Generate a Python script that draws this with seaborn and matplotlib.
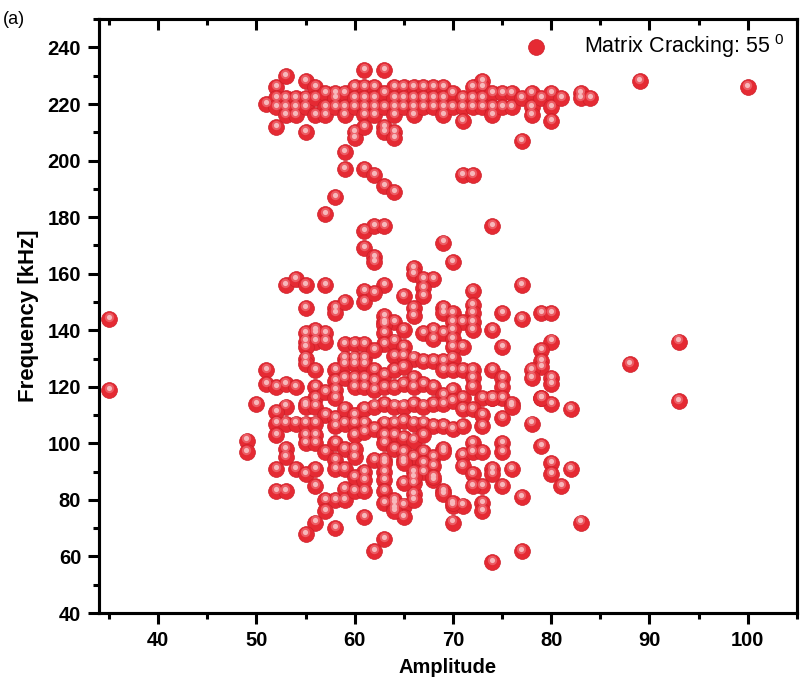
import numpy as np
import pandas as pd
import matplotlib
matplotlib.use("Agg")
import matplotlib.pyplot as plt
from matplotlib.ticker import MultipleLocator, NullFormatter
from matplotlib.transforms import ScaledTranslation
import seaborn as sns

# --- data: (amplitude [dB], frequency [kHz]) ---
BAND_PTS = [
    (51, 220), (52, 226), (52, 222), (52, 219), (52, 212), (53, 230), (53, 222), (53, 219), (53, 216),
    (54, 222), (54, 219), (54, 216), (55, 228), (55, 222), (55, 219), (55, 210), (56, 226), (56, 222),
    (56, 216), (57, 224), (57, 219), (57, 216), (58, 224), (58, 222), (58, 219), (59, 224), (59, 219),
    (59, 216), (60, 226), (60, 222), (60, 219), (60, 210), (60, 208), (61, 232), (61, 226), (61, 222),
    (61, 219), (61, 216), (61, 212), (62, 226), (62, 222), (62, 219), (62, 216), (63, 232), (63, 224),
    (63, 219), (63, 212), (63, 210), (64, 226), (64, 222), (64, 219), (64, 216), (64, 210), (64, 208),
    (65, 226), (65, 222), (65, 219), (66, 226), (66, 222), (66, 219), (66, 216), (67, 226), (67, 222),
    (67, 219), (68, 226), (68, 222), (68, 219), (69, 226), (69, 222), (69, 219), (69, 216), (70, 224),
    (70, 219), (71, 222), (71, 219), (71, 214), (72, 226), (72, 222), (72, 219), (73, 228), (73, 226),
    (73, 222), (73, 219), (74, 224), (74, 219), (74, 216), (75, 224), (75, 219), (76, 224), (76, 219),
    (77, 222), (77, 207), (78, 224), (78, 219), (78, 216), (79, 222), (80, 224), (80, 219), (80, 214),
    (81, 222), (83, 224), (83, 222), (84, 222), (89, 228), (100, 226),
]

FALL_PTS = [
    (59, 203), (59, 197), (61, 197), (62, 195), (63, 191), (64, 189), (58, 187), (57, 181),
    (71, 195), (72, 195),
]

UPPER_PTS = [
    (61, 175), (62, 177), (63, 177), (74, 177), (61, 169), (62, 166), (62, 164), (69, 171), (70, 164),
    (66, 162), (66, 160), (67, 158), (68, 158), (53, 156), (54, 158), (55, 156), (57, 156), (63, 156),
    (77, 156), (61, 154), (61, 150), (62, 153), (65, 152), (67, 155), (67, 152), (72, 154), (55, 148),
    (58, 148), (58, 146), (59, 150), (66, 148), (66, 145), (69, 148), (69, 146), (70, 146), (72, 149),
    (72, 146), (75, 146), (77, 144), (79, 146), (80, 146), (63, 145), (63, 143), (64, 143), (65, 140),
    (56, 140), (55, 139), (56, 139), (57, 139), (55, 136), (56, 136), (57, 136), (55, 134), (55, 130),
    (55, 128), (56, 126), (70, 143), (71, 143), (72, 143), (72, 140), (70, 140), (68, 140), (67, 139),
    (68, 137), (69, 139), (70, 137), (71, 134), (70, 134), (74, 140), (75, 134), (80, 136), (79, 133),
    (79, 129), (79, 127), (78, 126), (78, 123), (80, 123), (80, 121), (63, 142), (63, 139), (63, 135),
    (64, 136), (65, 134), (64, 131), (65, 131), (59, 135), (60, 135), (61, 135), (59, 130), (60, 130),
    (61, 130), (62, 133), (66, 130), (67, 129), (68, 129), (69, 129), (70, 130), (69, 126), (70, 126),
    (71, 126), (72, 126), (72, 123), (74, 126), (75, 123), (75, 120), (51, 126), (51, 121), (52, 120),
    (53, 121), (54, 120), (56, 120), (56, 116), (57, 118), (58, 126), (58, 122), (58, 119), (58, 116),
    (59, 128), (60, 128), (61, 128), (59, 123), (60, 123), (61, 123), (62, 126), (62, 122), (63, 124),
    (64, 126), (65, 127), (66, 123), (60, 120), (61, 120), (62, 119), (63, 120), (64, 120), (65, 121),
    (66, 120), (67, 121), (68, 120), (69, 117), (70, 119), (71, 116), (72, 120), (73, 116), (74, 116),
    (75, 116), (76, 114), (79, 116), (80, 114), (82, 112), (50, 114), (53, 113), (55, 114),
]

LOWER_PTS = [
    (52, 111), (52, 107), (53, 107), (54, 107), (52, 103), (55, 103), (56, 103), (55, 100), (56, 100),
    (49, 101), (49, 97), (53, 98), (53, 95), (52, 91), (54, 91), (55, 89), (56, 91), (52, 83), (53, 83),
    (56, 85), (57, 97), (58, 100), (59, 98), (58, 94), (58, 91), (59, 91), (60, 95), (60, 98), (57, 80),
    (58, 80), (59, 80), (57, 76), (56, 72), (55, 68), (58, 70), (59, 84), (60, 83), (61, 83), (61, 90),
    (60, 88), (61, 87), (62, 94), (63, 94), (63, 90), (63, 87), (63, 83), (61, 74), (63, 66), (62, 62),
    (63, 79), (64, 80), (64, 77), (65, 78), (65, 74), (66, 82), (66, 86), (65, 86), (67, 90), (68, 87),
    (69, 83), (70, 78), (71, 78), (70, 72), (73, 79), (73, 76), (77, 81), (77, 62), (74, 58), (71, 96),
    (72, 100), (71, 92), (72, 89), (73, 85), (74, 91), (75, 100), (75, 97), (75, 85), (76, 91), (72, 85),
    (79, 99), (80, 93), (80, 89), (81, 85), (82, 91), (83, 72), (78, 107), (75, 109), (73, 106),
    (55, 113), (56, 113), (57, 110), (58, 109), (59, 112), (60, 110), (61, 112), (62, 113), (63, 114),
    (64, 113), (65, 113), (66, 114), (67, 113), (68, 114), (69, 114), (70, 115), (71, 112), (72, 112),
    (73, 110), (74, 116), (76, 113), (79, 116), (55, 107), (56, 107), (58, 106), (59, 107), (60, 107),
    (61, 107), (63, 107), (64, 107), (65, 108), (66, 107), (67, 107), (68, 106), (69, 106), (70, 105),
    (71, 106), (60, 103), (61, 104), (62, 105), (63, 103), (64, 103), (65, 102), (66, 101), (67, 103),
    (63, 100), (64, 98), (65, 97), (66, 95), (67, 97), (68, 95), (69, 98), (65, 94), (67, 93), (68, 92),
    (66, 90), (68, 88), (66, 88), (66, 80), (65, 93), (64, 79), (64, 76), (63, 93), (69, 97), (69, 82),
    (72, 97), (73, 97), (74, 89), (70, 79),
]

OUTLIER_PTS = [(35, 144), (35, 119), (88, 128), (93, 136), (93, 115)]

LEGEND_LABEL = "Matrix Cracking: 55$^{\\ 0}$"

# ----------------------------------------------------------------------

sns.set_style("ticks")
plt.rcParams["font.family"] = ["Liberation Sans", "DejaVu Sans"]
plt.rcParams["mathtext.fontset"] = "custom"
plt.rcParams["mathtext.rm"] = "Liberation Sans"
plt.rcParams["mathtext.default"] = "regular"
plt.rcParams["text.color"] = "black"
plt.rcParams["axes.labelcolor"] = "black"
plt.rcParams["xtick.color"] = "black"
plt.rcParams["ytick.color"] = "black"

all_pts = BAND_PTS + FALL_PTS + UPPER_PTS + LOWER_PTS + OUTLIER_PTS
df = pd.DataFrame(all_pts, columns=["Amplitude", "Frequency"])

fig = plt.figure(figsize=(8, 6.97), dpi=100)
ax = fig.add_axes([0.124, 0.1205, 0.872, 0.852])

# base ball
sns.scatterplot(data=df, x="Amplitude", y="Frequency", ax=ax, s=130,
                color="#e52a33", edgecolor="#cc1f29", linewidth=0.5,
                label=LEGEND_LABEL, zorder=3)
# soft highlight layers for the glossy "ball" look
shift = ScaledTranslation(-0.3 / 72, 1.5 / 72, fig.dpi_scale_trans)
sns.scatterplot(data=df, x="Amplitude", y="Frequency", ax=ax, s=45,
                color="#ee6870", linewidth=0, legend=False, zorder=4, alpha=0.8)
ax.collections[-1].set_offset_transform(ax.transData + shift)
sns.scatterplot(data=df, x="Amplitude", y="Frequency", ax=ax, s=14,
                color="#f7b8bb", linewidth=0, legend=False, zorder=5)
ax.collections[-1].set_offset_transform(ax.transData + shift)

ax.set_xlim(34, 105)
ax.set_ylim(40, 250)
ax.xaxis.set_major_locator(MultipleLocator(10))
ax.xaxis.set_minor_locator(MultipleLocator(5))
ax.set_yticks(np.arange(40, 241, 20))
ax.yaxis.set_minor_locator(MultipleLocator(10))

for side in ["left", "right", "top", "bottom"]:
    ax.spines[side].set_visible(True)
    ax.spines[side].set_linewidth(2.2)
    ax.spines[side].set_color("black")

ax.tick_params(axis="both", which="major", direction="out", length=8, width=2.2,
               labelsize=14.5, pad=5, colors="black")
ax.tick_params(axis="both", which="minor", direction="out", length=4.5, width=2.2)
for lbl in ax.get_xticklabels() + ax.get_yticklabels():
    lbl.set_fontweight("bold")

# mirrored ticks on the top spine, pointing inward
top = ax.twiny()
top.set_xlim(ax.get_xlim())
top.xaxis.set_major_locator(MultipleLocator(10))
top.xaxis.set_minor_locator(MultipleLocator(5))
top.xaxis.set_major_formatter(NullFormatter())
top.tick_params(axis="x", which="both", top=True, bottom=False, labeltop=False,
                direction="in", width=2.2, color="black")
top.tick_params(axis="x", which="major", length=8)
top.tick_params(axis="x", which="minor", length=4.5)
top.tick_params(axis="y", left=False, right=False, labelleft=False, labelright=False)
for side in ["left", "right", "top", "bottom"]:
    top.spines[side].set_linewidth(2.2)
    top.spines[side].set_color("black")

ax.set_xlabel("Amplitude", fontsize=14.5, fontweight="bold", labelpad=6, color="black")
ax.set_ylabel("Frequency [kHz]", fontsize=16, fontweight="bold", labelpad=6, color="black")

top.legend(*ax.get_legend_handles_labels(), loc="upper right", frameon=False,
           fontsize=15.5, handletextpad=1.2, borderaxespad=0.2, markerscale=1.0)
ax.get_legend().remove()

fig.text(0.003, 0.972, "(a)", fontsize=13, ha="left", va="center")

fig.savefig("out.png", dpi=100)
